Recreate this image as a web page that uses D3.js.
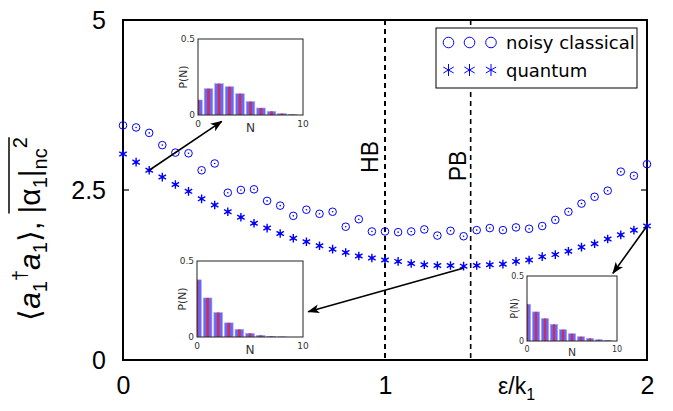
<!DOCTYPE html>
<html>
<head>
<meta charset="utf-8">
<script src="https://cdn.jsdelivr.net/npm/d3@7/dist/d3.min.js"></script>
<style>
  body { margin: 0; background: #fff; }
  svg { display: block; }
</style>
</head>
<body>
<svg id="chart" width="673" height="411" font-family="Liberation Sans, Arial, sans-serif"></svg>
<script>
// --- data ---
const eps = [0, 0.05, 0.1, 0.15, 0.2, 0.25, 0.3, 0.35, 0.4, 0.45, 0.5, 0.55, 0.6, 0.65, 0.7, 0.75, 0.8, 0.85, 0.9, 0.95,
             1, 1.05, 1.1, 1.15, 1.2, 1.25, 1.3, 1.35, 1.4, 1.45, 1.5, 1.55, 1.6, 1.65, 1.7, 1.75, 1.8, 1.85, 1.9, 1.95, 2];
const classical = [3.45, 3.42, 3.34, 3.16, 3.05, 3.04, 2.79, 2.89, 2.46, 2.50, 2.51, 2.34, 2.27, 2.12, 2.21, 2.15, 2.18, 1.96, 2.07, 1.89,
                   1.89, 1.88, 1.89, 1.92, 1.83, 1.90, 1.82, 1.91, 1.94, 1.91, 1.95, 1.93, 1.97, 2.06, 2.18, 2.30, 2.40, 2.49, 2.77, 2.71, 2.88];
const quantum = [3.03, 2.91, 2.79, 2.69, 2.58, 2.48, 2.37, 2.28, 2.18, 2.10, 2.01, 1.94, 1.86, 1.79, 1.74, 1.68, 1.63, 1.58, 1.53, 1.50,
                 1.47, 1.45, 1.42, 1.40, 1.39, 1.39, 1.38, 1.39, 1.40, 1.41, 1.45, 1.47, 1.52, 1.55, 1.60, 1.66, 1.71, 1.78, 1.84, 1.91, 1.97];
const xTicks = [0, 1, 2];
const yTicks = [0, 2.5, 5];
const bifurcations = [{ name: "HB", eps: 1 }, { name: "PB", eps: 1.327 }];
const legendNames = ["noisy classical", "quantum"];

// photon number distributions P(N), N = 0..9
const nValues = [0, 1, 2, 3, 4, 5, 6, 7, 8, 9];
const pnLow = [0.099, 0.173, 0.206, 0.186, 0.140, 0.088, 0.046, 0.024, 0.009, 0.003];  // eps = 0.1
const pnMid = [0.376, 0.257, 0.161, 0.093, 0.050, 0.024, 0.011, 0.004, 0.001, 0.0];    // eps = 1.3
const pnHigh = [0.283, 0.224, 0.173, 0.128, 0.087, 0.056, 0.033, 0.020, 0.010, 0.005]; // eps = 2

// arrows: from a data point to the inset, in data units
const arrows = [
  { from: [0.1, 2.79], to: [0.377, 3.51] },
  { from: [1.298, 1.35], to: [0.707, 0.71] },
  { from: [2.0, 1.97], to: [1.87, 1.275] }
];

// --- layout ---
const svg = d3.select("#chart");
const x = d3.scaleLinear().domain([0, 2]).range([123, 647]);
const y = d3.scaleLinear().domain([0, 5]).range([360, 20]);
const blue = "#0000ff";
const dejavu = "DejaVu Sans, sans-serif";

const insets = [
  { data: pnLow, box: [198, 39, 105, 76], fs: 9 },
  { data: pnMid, box: [197, 261, 106, 76], fs: 9 },
  { data: pnHigh, box: [527, 276, 90, 65], fs: 8 }
];

svg.append("defs").append("marker")
    .attr("id", "arrowhead")
    .attr("viewBox", "0 -5 12 10")
    .attr("refX", 11)
    .attr("refY", 0)
    .attr("markerUnits", "userSpaceOnUse")
    .attr("markerWidth", 12)
    .attr("markerHeight", 10)
    .attr("orient", "auto")
    .append("path")
    .attr("d", "M0,-4.5L12,0L0,4.5L3,0Z")
    .attr("fill", "#000");

// bifurcation lines
bifurcations.forEach((b, i) => {
    svg.append("line")
        .attr("x1", x(b.eps)).attr("x2", x(b.eps))
        .attr("y1", y(5)).attr("y2", y(0))
        .attr("stroke", "#000")
        .attr("stroke-width", i === 0 ? 2 : 1.6)
        .attr("stroke-dasharray", "5,4");
});
svg.append("text")
    .attr("transform", `translate(378,157) rotate(-90)`)
    .attr("text-anchor", "middle")
    .attr("font-size", 23)
    .text("HB");
svg.append("text")
    .attr("transform", `translate(466,166) rotate(-90)`)
    .attr("text-anchor", "middle")
    .attr("font-size", 23)
    .text("PB");

// frame
svg.append("rect")
    .attr("x", x(0)).attr("y", y(5))
    .attr("width", x(2) - x(0)).attr("height", y(0) - y(5))
    .attr("fill", "none")
    .attr("stroke", "#000")
    .attr("stroke-width", 2);

// inner ticks at 2.5
svg.append("line").attr("x1", x(0)).attr("x2", x(0) + 6).attr("y1", y(2.5)).attr("y2", y(2.5)).attr("stroke", "#000").attr("stroke-width", 1.2);
svg.append("line").attr("x1", x(2)).attr("x2", x(2) - 6).attr("y1", y(2.5)).attr("y2", y(2.5)).attr("stroke", "#000").attr("stroke-width", 1.2);

// axes labels
const yAxis = svg.append("g")
    .attr("transform", `translate(${x(0)},0)`)
    .call(d3.axisLeft(y).tickValues(yTicks).tickSize(0).tickPadding(17).tickFormat(d => String(d)));
const xAxis = svg.append("g")
    .attr("transform", `translate(0,${y(0)})`)
    .call(d3.axisBottom(x).tickValues(xTicks).tickSize(0).tickPadding(16).tickFormat(d => String(d)));
[yAxis, xAxis].forEach(a => {
    a.select(".domain").remove();
    a.attr("font-family", null);
    a.selectAll("text").attr("font-size", 25).attr("fill", "#000");
});

// x label
const xl = svg.append("text").attr("x", 498).attr("y", 394).attr("font-size", 23);
xl.append("tspan").text("ε/k");
xl.append("tspan").attr("font-size", 16).attr("dy", 6).text("1");

// y label
const yg = svg.append("g").attr("transform", "translate(40,229) rotate(-90)");
const yl = yg.append("text").attr("text-anchor", "middle").attr("font-size", 30);
let shift = 0;
function part(str, kind, italic) {
    const t = yl.append("tspan").text(str);
    let target = 0;
    if (kind === "sub") { target = 7; t.attr("font-size", 20); }
    if (kind === "sup") { target = -13; t.attr("font-size", 20); }
    t.attr("dy", target - shift);
    shift = target;
    if (italic) t.attr("font-style", "italic");
    return t;
}
part("⟨", null);
part("a", null, true);
part("1", "sub");
part("†", "sup");
part("a", null, true);
part("1", "sub");
part("⟩", null);
part(", ", null);
const overStart = yl.text().length;
part("|α", null);
part("1", "sub");
part("|", null);
part("nc", "sub");
part("2", "sup");
const node = yl.node();
const n = node.getNumberOfChars();
const ox1 = node.getStartPositionOfChar(overStart).x;
const ox2 = node.getEndPositionOfChar(n - 1).x;
yg.append("line").attr("x1", ox1).attr("x2", ox2).attr("y1", -31).attr("y2", -31).attr("stroke", "#000").attr("stroke-width", 1.5);

// --- data marks ---
function starPath(r) {
    const c = r * Math.cos(Math.PI / 6), s = r * Math.sin(Math.PI / 6);
    return `M0,${-r}V${r}M${-c},${-s}L${c},${s}M${-c},${s}L${c},${-s}`;
}

const cl = svg.append("g");
cl.selectAll("circle.ring").data(eps).enter().append("circle")
    .attr("cx", d => x(d)).attr("cy", (d, i) => y(classical[i]))
    .attr("r", 3.8).attr("fill", "none").attr("stroke", blue).attr("stroke-width", 1);
cl.selectAll("circle.dot").data(eps).enter().append("circle")
    .attr("cx", d => x(d)).attr("cy", (d, i) => y(classical[i]))
    .attr("r", 0.8).attr("fill", blue);

const st = svg.append("g");
st.selectAll("path").data(eps).enter().append("path")
    .attr("transform", (d, i) => `translate(${x(d)},${y(quantum[i])})`)
    .attr("d", starPath(4.3))
    .attr("stroke", blue).attr("stroke-width", 1.4).attr("fill", "none");
st.selectAll("circle").data(eps).enter().append("circle")
    .attr("cx", d => x(d)).attr("cy", (d, i) => y(quantum[i]))
    .attr("r", 1.6).attr("fill", blue);

// --- insets ---
insets.forEach((ins, k) => {
    const [bx, by, bw, bh] = ins.box;
    const ix = d3.scaleLinear().domain([0, 10]).range([bx, bx + bw]);
    const iy = d3.scaleLinear().domain([0, 0.5]).range([by + bh, by]);
    const unit = ix(1) - ix(0);
    const g = svg.append("g");
    g.append("clipPath").attr("id", "clip" + k)
        .append("rect").attr("x", bx).attr("y", by).attr("width", bw).attr("height", bh);
    g.append("rect").attr("x", bx).attr("y", by).attr("width", bw).attr("height", bh).attr("fill", "#fff");
    const bars = g.append("g").attr("clip-path", `url(#clip${k})`);
    bars.selectAll("rect.b").data(nValues).enter().append("rect")
        .attr("x", d => ix(d) - unit * 0.41).attr("width", unit * 0.82)
        .attr("y", (d, i) => iy(ins.data[i])).attr("height", (d, i) => iy(0) - iy(ins.data[i]))
        .attr("fill", "#6868f6").attr("stroke", "#a8a8fa").attr("stroke-width", 0.6);
    bars.selectAll("rect.r").data(nValues).enter().append("rect")
        .attr("x", d => ix(d) - unit * 0.13).attr("width", unit * 0.26)
        .attr("y", (d, i) => iy(ins.data[i])).attr("height", (d, i) => iy(0) - iy(ins.data[i]))
        .attr("fill", "#c8305c");
    g.append("rect").attr("x", bx).attr("y", by).attr("width", bw).attr("height", bh)
        .attr("fill", "none").attr("stroke", "#222").attr("stroke-width", 1);
    const fs = ins.fs;
    const lab = (tx, ty, str, anchor, size) => g.append("text")
        .attr("x", tx).attr("y", ty).attr("text-anchor", anchor)
        .attr("dominant-baseline", "central")
        .attr("font-family", dejavu)
        .attr("font-size", size).attr("fill", "#333").text(str);
    lab(bx - 3, iy(0.5), "0.5", "end", fs);
    lab(bx - 3, iy(0), "0", "end", fs);
    lab(ix(0), by + bh + fs, "0", "middle", fs);
    lab(ix(10), by + bh + fs, "10", "middle", fs);
    lab(ix(5), by + bh + fs * 1.4, "N", "middle", fs * 1.35);
    g.append("text")
        .attr("transform", `translate(${bx - fs * 1.6},${by + bh / 2}) rotate(-90)`)
        .attr("text-anchor", "middle").attr("dominant-baseline", "central")
        .attr("font-family", dejavu)
        .attr("font-size", fs * 1.2).attr("fill", "#333").text("P(N)");
});

// arrows
svg.append("g").selectAll("line").data(arrows).enter().append("line")
    .attr("x1", d => x(d.from[0])).attr("y1", d => y(d.from[1]))
    .attr("x2", d => x(d.to[0])).attr("y2", d => y(d.to[1]))
    .attr("stroke", "#000").attr("stroke-width", 1.6)
    .attr("marker-end", "url(#arrowhead)");

// --- legend ---
const lg = svg.append("g");
lg.append("rect").attr("x", 436).attr("y", 28).attr("width", 201).attr("height", 60)
    .attr("fill", "#fff").attr("stroke", "#000").attr("stroke-width", 1);
const legX = [448.5, 469.5, 491];
legX.forEach(lx => {
    lg.append("circle").attr("cx", lx).attr("cy", 42.5).attr("r", 5.3)
        .attr("fill", "none").attr("stroke", blue).attr("stroke-width", 1);
    lg.append("path").attr("transform", `translate(${lx},70)`).attr("d", starPath(6))
        .attr("stroke", blue).attr("stroke-width", 1).attr("fill", "none");
});
legendNames.forEach((name, i) => {
    lg.append("text").attr("x", 506).attr("y", i === 0 ? 42.5 : 70)
        .attr("dominant-baseline", "central")
        .attr("font-family", dejavu)
        .attr("font-size", 18).attr("fill", "#000").text(name);
});
</script>
</body>
</html>
